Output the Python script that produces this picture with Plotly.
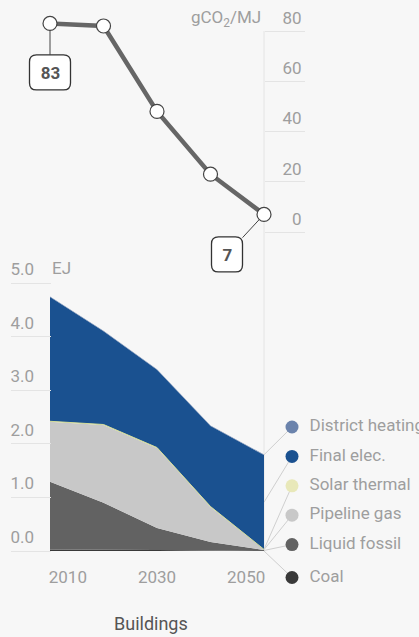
import plotly.graph_objects as go

# ---------------- data ----------------
years = [2006, 2018, 2030, 2042, 2054]
intensity = [83, 82, 48, 23, 7]          # gCO2/MJ

series_names = ["Coal", "Liquid fossil", "Pipeline gas", "Solar thermal", "Final elec.", "District heating"]
coal = [0.03, 0.03, 0.02, 0.01, 0.00]
liquid_fossil = [1.26, 0.87, 0.41, 0.16, 0.02]
pipeline_gas = [1.12, 1.45, 1.49, 0.65, 0.01]
solar_thermal = [0.01, 0.01, 0.01, 0.01, 0.00]
final_elec = [2.32, 1.74, 1.45, 1.50, 1.76]
district_heating = [0.01, 0.01, 0.01, 0.01, 0.01]

x_tick_vals = [2010, 2030, 2050]
ej_ticks = [0, 1, 2, 3, 4, 5]
co2_ticks = [0, 20, 40, 60, 80]

# ---------------- style ----------------
W, H = 419, 637
BG = "#f7f7f7"
GRID = "#e4e4e4"
TXT = "#9e9e9e"
FONT = "Roboto"
colors = {
    "Coal": "#393939",
    "Liquid fossil": "#626262",
    "Pipeline gas": "#c8c8c8",
    "Solar thermal": "#e8e8b9",
    "Final elec.": "#1a5190",
    "District heating": "#6b83ac",
}
values = {
    "Coal": coal,
    "Liquid fossil": liquid_fossil,
    "Pipeline gas": pipeline_gas,
    "Solar thermal": solar_thermal,
    "Final elec.": final_elec,
    "District heating": district_heating,
}

# pixel geometry helpers
plot_left, plot_right = 50, 264
px_per_year = (plot_right - plot_left) / (years[-1] - years[0])
x_range = [years[0], years[0] + (W - plot_left) / px_per_year]

def py(p):  # pixel y -> paper fraction
    return (H - p) / H

def pxf(p):  # pixel x -> paper fraction
    return p / W

# bottom axis: 0 EJ at 551px, 5 EJ at 283px; extend domain to bottom of figure
ej_zero_px, ej_five_px = 551, 283
ej_per_px = 5 / (ej_zero_px - ej_five_px)
ej_range = [-(H - ej_zero_px) * ej_per_px, 5]

# top axis: 0 at 232px, 80 at 31px; extend domain to top of figure
co2_zero_px, co2_top_px = 232, 31
co2_per_px = 80 / (co2_zero_px - co2_top_px)
co2_range = [0, 80 + co2_top_px * co2_per_px]

fig = go.Figure()

# ---------------- bottom: stacked area ----------------
for name in series_names:
    fig.add_trace(go.Scatter(
        x=years, y=values[name], mode="lines", stackgroup="one",
        line=dict(width=1 if name == "Solar thermal" else 0,
                  color="#d3dc98" if name == "Solar thermal" else colors[name]),
        fillcolor=colors[name], name=name, hoverinfo="skip",
        xaxis="x", yaxis="y",
    ))

# custom legend with leader lines
leg_x = years[-1] + 28 / px_per_year
legend_order = list(reversed(series_names))
leg_top = (ej_zero_px - 427) * ej_per_px
leg_step = 29.4 * ej_per_px
leg_y = [leg_top - i * leg_step for i in range(len(legend_order))]
leg_y[-1] -= 3.5 * ej_per_px

cum = 0
mids = {}
for name in series_names:
    v = values[name][-1]
    mids[name] = cum + v / 2
    cum += v

shapes = []
for name, ly in zip(legend_order, leg_y):
    shapes.append(dict(type="line", xref="x", yref="y", x0=years[-1], y0=mids[name],
                       x1=leg_x, y1=ly, line=dict(color="#cfcfcf", width=1), layer="below"))

fig.add_trace(go.Scatter(
    x=[leg_x] * len(legend_order), y=leg_y, mode="markers+text",
    marker=dict(size=13, color=[colors[n] for n in legend_order]),
    text=["  " + n for n in legend_order], textposition="middle right",
    textfont=dict(family=FONT, size=17, color=TXT),
    cliponaxis=False, hoverinfo="skip", xaxis="x", yaxis="y",
))

# ---------------- top: carbon intensity line ----------------
fig.add_trace(go.Scatter(
    x=years, y=intensity, mode="lines+markers",
    line=dict(color="#666666", width=4.5),
    marker=dict(size=14, color="white", line=dict(color="#444444", width=1.2)),
    cliponaxis=False, hoverinfo="skip", xaxis="x2", yaxis="y2",
))

# vertical guide line
shapes.append(dict(type="line", xref="x", yref="paper", x0=years[-1], x1=years[-1],
                   y0=py(ej_zero_px), y1=py(co2_top_px), line=dict(color=GRID, width=1),
                   layer="below"))


def rounded_box_paper(cx_px, cy_px, w_px, h_px, r_px):
    """Rounded-rectangle SVG path in paper units, from pixel centre/size."""
    x0, x1 = pxf(cx_px - w_px / 2), pxf(cx_px + w_px / 2)
    y0, y1 = py(cy_px + h_px / 2), py(cy_px - h_px / 2)
    rx, ry = r_px / W, r_px / H
    return (f"M{x0 + rx},{y0} L{x1 - rx},{y0} Q{x1},{y0} {x1},{y0 + ry} "
            f"L{x1},{y1 - ry} Q{x1},{y1} {x1 - rx},{y1} L{x0 + rx},{y1} "
            f"Q{x0},{y1} {x0},{y1 - ry} L{x0},{y0 + ry} Q{x0},{y0} {x0 + rx},{y0} Z")


label_boxes = [
    # (index into data, x offset px, y offset px (down), box width, box height)
    (0, 0, 49, 41, 35),
    (len(years) - 1, -37, 40, 31, 35),
]

annotations = []
for idx, dx, dy, bw, bh in label_boxes:
    point_px_x = plot_left + (years[idx] - years[0]) * px_per_year
    point_px_y = co2_zero_px - intensity[idx] / co2_per_px
    shapes.append(dict(type="path", xref="paper", yref="paper",
                       path=rounded_box_paper(point_px_x + dx, point_px_y + dy, bw, bh, 7),
                       fillcolor="white", line=dict(color="#333333", width=1.3),
                       layer="above"))
    annotations.append(dict(
        x=years[idx], y=intensity[idx], xref="x2", yref="y2", text=f"<b>{intensity[idx]}</b>",
        showarrow=True, arrowhead=0, arrowwidth=1, arrowcolor="#444444", ax=dx, ay=dy,
        standoff=7, borderwidth=0, borderpad=0, width=bw, height=bh,
        font=dict(family=FONT, size=17, color="#555555")))

annotations += [
    dict(x=years[-1], y=co2_ticks[-1], xref="x2", yref="y2", text="gCO<sub>2</sub>/MJ",
         showarrow=False, xanchor="right", yanchor="middle", xshift=-1, yshift=13,
         font=dict(family=FONT, size=17, color=TXT)),
    dict(x=years[0], y=ej_ticks[-1], xref="x", yref="y", text="EJ",
         showarrow=False, xanchor="left", yanchor="middle", xshift=0, yshift=15,
         font=dict(family=FONT, size=17, color=TXT)),
    dict(x=pxf(151), y=py(623), xref="paper", yref="paper", text="Buildings",
         showarrow=False, xanchor="center", yanchor="middle",
         font=dict(family=FONT, size=18, color="#555555")),
]

fig.update_layout(
    width=W, height=H, margin=dict(l=0, r=0, t=0, b=0, pad=0, autoexpand=False),
    paper_bgcolor=BG, plot_bgcolor=BG, showlegend=False,
    font=dict(family=FONT, size=17, color=TXT),
    xaxis=dict(domain=[pxf(plot_left), 1], range=x_range, anchor="free",
               position=py(ej_zero_px), automargin=False,
               tickvals=x_tick_vals, ticks="", showgrid=False, zeroline=False, showline=False,
               ticklabelstandoff=14, tickfont=dict(family=FONT, size=17, color=TXT)),
    yaxis=dict(domain=[0, py(ej_five_px)], range=ej_range, anchor="free", position=pxf(10),
               side="right", tickvals=ej_ticks, tickformat=".1f", ticks="outside", ticklen=40,
               tickcolor=GRID, tickwidth=1, showgrid=False, zeroline=False, showline=False,
               ticklabelstandoff=-44, ticklabelshift=-14, automargin=False,
               tickfont=dict(family=FONT, size=17, color=TXT)),
    xaxis2=dict(domain=[pxf(plot_left), 1], range=x_range, anchor="y2", matches="x",
                visible=False, automargin=False),
    yaxis2=dict(domain=[py(co2_zero_px), 1], range=co2_range, anchor="free",
                position=pxf(305), automargin=False,
                side="left", tickvals=co2_ticks, ticks="outside", ticklen=40,
                tickcolor=GRID, tickwidth=1, showgrid=False, zeroline=False, showline=False,
                ticklabelstandoff=-40, ticklabelshift=-13,
                tickfont=dict(family=FONT, size=17, color=TXT)),
    shapes=shapes, annotations=annotations,
)

fig.write_html("out.html", config={"displayModeBar": False},
               post_script="document.body.style.margin='0px';document.body.style.overflow='hidden';")
